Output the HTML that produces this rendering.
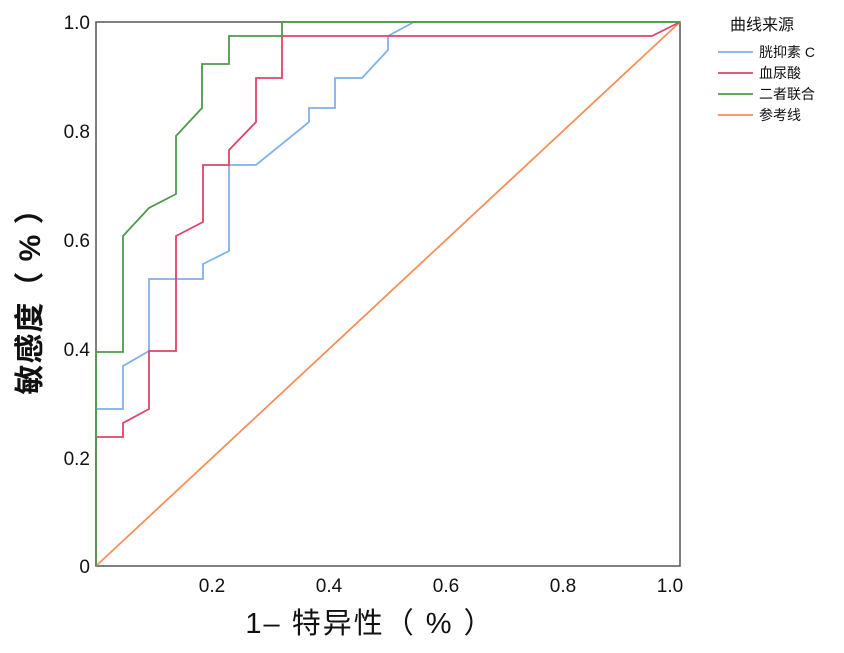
<!DOCTYPE html>
<html><head><meta charset="utf-8"><style>
body{margin:0;background:#fff;width:844px;height:648px;overflow:hidden}
text{font-family:"Liberation Sans","Noto Sans CJK SC",sans-serif}
</style></head><body>
<svg width="844" height="648" xmlns="http://www.w3.org/2000/svg">
<rect x="96" y="22" width="584" height="544" fill="none" stroke="#555" stroke-width="1.5"/>
<g font-size="19" fill="#111" text-anchor="end">
<text x="90" y="573">0</text>
<text x="90" y="465">0.2</text>
<text x="90" y="356">0.4</text>
<text x="90" y="247">0.6</text>
<text x="90" y="138">0.8</text>
<text x="90" y="29">1.0</text>
</g>
<g font-size="19" fill="#111" text-anchor="middle">
<text x="212" y="592">0.2</text>
<text x="329" y="592">0.4</text>
<text x="446" y="592">0.6</text>
<text x="563" y="592">0.8</text>
<text x="670" y="592">1.0</text>
</g>
<text x="370" y="633" font-size="29" text-anchor="middle" fill="#111" letter-spacing="2">1– 特异性（ % ）</text>
<text transform="translate(40,294) rotate(-90)" font-size="30" font-weight="bold" text-anchor="middle" fill="#111" letter-spacing="1">敏感度（ % ）</text>
<line x1="96" y1="566" x2="680" y2="22" stroke="#f5905a" stroke-width="1.8"/>
<polyline fill="none" stroke="#80b0ea" stroke-width="1.8" points="96,566 96,409 123,409 123,366 149,351 149,279 203,279 203,264 229,251 229,165 256,165 309,122 309,108 335,108 335,78 362,78 388,50 388,36 414,22 680,22"/>
<polyline fill="none" stroke="#e0436a" stroke-width="1.8" points="96,566 96,437 123,437 123,423 149,409 149,351 176,351 176,236 203,222 203,165 229,165 229,150 256,122 256,78 282,78 282,36 652,36 680,22"/>
<polyline fill="none" stroke="#4f9a4a" stroke-width="1.8" points="96,566 96,352 123,352 123,236 149,208 176,194 176,136 202,108 202,64 229,64 229,36 282,36 282,22 680,22"/>
<text x="730" y="30" font-size="16" fill="#111">曲线来源</text>
<g font-size="14" fill="#111">
<line x1="718" y1="52" x2="753" y2="52" stroke="#80b0ea" stroke-width="1.8"/><text x="759" y="57">胱抑素 C</text>
<line x1="718" y1="73" x2="753" y2="73" stroke="#e0436a" stroke-width="1.8"/><text x="759" y="78">血尿酸</text>
<line x1="718" y1="94" x2="753" y2="94" stroke="#4f9a4a" stroke-width="1.8"/><text x="759" y="99">二者联合</text>
<line x1="718" y1="115" x2="753" y2="115" stroke="#f5905a" stroke-width="1.8"/><text x="759" y="120">参考线</text>
</g>
</svg>
</body></html>
